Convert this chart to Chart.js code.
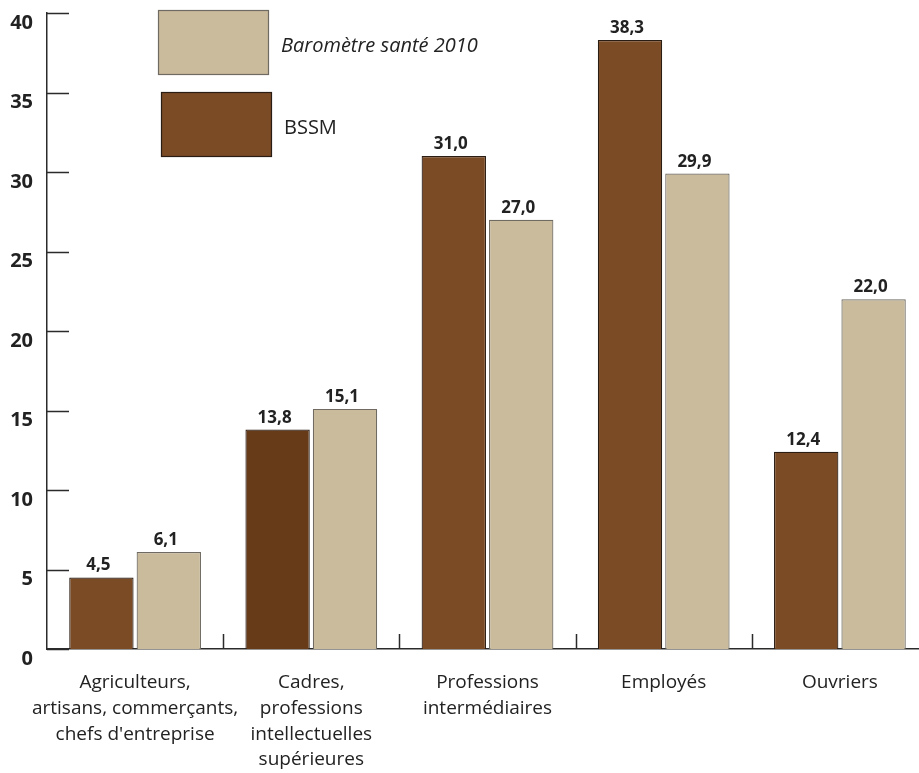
<!DOCTYPE html>
<html lang="fr">
<head>
<meta charset="utf-8">
<title>BSSM / Baromètre santé 2010</title>
<script src="https://cdn.jsdelivr.net/npm/chart.js@4.4.1/dist/chart.umd.min.js"></script>
<style>
  html, body { margin: 0; padding: 0; background: #fff; overflow: hidden; }
  #wrap { position: absolute; left: 0; top: 0; width: 928px; height: 773px; }
</style>
</head>
<body>
<div id="wrap"><canvas id="c" width="928" height="773"></canvas></div>
<script>
// Catégories socioprofessionnelles (libellés sur plusieurs lignes)
const categories = [
  ["Agriculteurs,", "artisans, commerçants,", "chefs d'entreprise"],
  ["Cadres,", "professions", "intellectuelles", "supérieures"],
  ["Professions", "intermédiaires"],
  ["Employés"],
  ["Ouvriers"]
];

// Pourcentages par enquête
const bssmValues = [4.5, 13.8, 31.0, 38.3, 12.4];
const barometreValues = [6.1, 15.1, 27.0, 29.9, 22.0];

// Graduations de l'axe vertical
const yTickValues = [0, 5, 10, 15, 20, 25, 30, 35, 40];

const seriesNames = { bssm: "BSSM", barometre: "Baromètre santé 2010" };

const BROWN = "#7b4b26";
const BROWN_DARK = "#673b18";
const BEIGE = "#cabb9c";
const INK = "#222222";
const FONT = "'Open Sans', 'Noto Sans', sans-serif";

const fmt = v => v.toFixed(1).replace(".", ",");

// Petites graduations dessinées vers l'intérieur, à partir des échelles
const innerTicks = {
  id: "innerTicks",
  afterDatasetsDraw(chart) {
    const { ctx, chartArea, scales } = chart;
    const x = scales.x, y = scales.y;
    ctx.save();
    ctx.strokeStyle = "#2b2b2b";
    ctx.lineWidth = 1.5;
    ctx.beginPath();
    yTickValues.forEach(v => {
      const py = Math.round(y.getPixelForValue(v)) + 0.5;
      ctx.moveTo(chartArea.left, py);
      ctx.lineTo(chartArea.left + 22, py);
    });
    for (let i = 1; i <= categories.length; i++) {
      const bx = i < categories.length
        ? Math.round((x.getPixelForValue(i - 1) + x.getPixelForValue(i)) / 2)
        : chartArea.right;
      ctx.moveTo(bx + 0.5, chartArea.bottom);
      ctx.lineTo(bx + 0.5, chartArea.bottom - 15);
    }
    ctx.stroke();
    ctx.restore();
  }
};

// Valeurs affichées au-dessus des barres
const valueLabels = {
  id: "valueLabels",
  afterDatasetsDraw(chart) {
    const { ctx } = chart;
    ctx.save();
    ctx.fillStyle = INK;
    ctx.font = "bold 17px " + FONT;
    ctx.textAlign = "center";
    ctx.textBaseline = "alphabetic";
    chart.data.datasets.forEach((ds, di) => {
      const meta = chart.getDatasetMeta(di);
      meta.data.forEach((bar, i) => {
        ctx.fillText(fmt(ds.data[i]), bar.x - 3, bar.y - 7);
      });
    });
    ctx.restore();
  }
};

// Légende : deux grands aplats empilés dans la zone de tracé
const boxLegend = {
  id: "boxLegend",
  afterDraw(chart) {
    const { ctx } = chart;
    const items = [
      { ds: chart.data.datasets[1], x: 158, y: 10, italic: true },
      { ds: chart.data.datasets[0], x: 161, y: 92, italic: false }
    ];
    ctx.save();
    items.forEach(it => {
      const fill = Array.isArray(it.ds.backgroundColor) ? it.ds.backgroundColor[0] : it.ds.backgroundColor;
      const stroke = Array.isArray(it.ds.borderColor) ? it.ds.borderColor[0] : it.ds.borderColor;
      ctx.fillStyle = fill;
      ctx.fillRect(it.x, it.y, 110, 64);
      ctx.strokeStyle = stroke;
      ctx.lineWidth = 1.2;
      ctx.strokeRect(it.x + 0.5, it.y + 0.5, 110, 64);
      ctx.fillStyle = INK;
      ctx.font = (it.italic ? "italic " : "") + "20px " + FONT;
      ctx.textAlign = "left";
      ctx.textBaseline = "middle";
      ctx.fillText(it.ds.label, it.x + 123, it.y + 36);
    });
    ctx.restore();
  }
};

new Chart(document.getElementById("c"), {
  type: "bar",
  data: {
    labels: categories,
    datasets: [
      {
        label: seriesNames.bssm,
        data: bssmValues,
        backgroundColor: bssmValues.map((_, i) => i === 1 ? BROWN_DARK : BROWN),
        borderColor: "#2a1d14",
        borderWidth: 1.2,
        categoryPercentage: 0.765,
        barPercentage: 0.955
      },
      {
        label: seriesNames.barometre,
        data: barometreValues,
        backgroundColor: BEIGE,
        borderColor: "#6f6a62",
        borderWidth: 1.2,
        categoryPercentage: 0.765,
        barPercentage: 0.955
      }
    ]
  },
  options: {
    responsive: false,
    animation: false,
    layout: { autoPadding: false, padding: { top: 13, right: 0, left: 0, bottom: 0 } },
    plugins: {
      legend: { display: false },
      tooltip: { enabled: false }
    },
    scales: {
      x: {
        grid: { display: false, drawTicks: false },
        border: { display: true, color: "#2b2b2b", width: 1.5 },
        ticks: {
          color: INK,
          font: { family: FONT, size: 19, lineHeight: 1.35 },
          padding: 21,
          maxRotation: 0,
          autoSkip: false
        },
        afterFit(scale) {
          scale.height = 124;
          scale.paddingLeft = 0;
          scale.paddingRight = 0;
        }
      },
      y: {
        min: 0,
        max: 40,
        afterBuildTicks(scale) { scale.ticks = yTickValues.map(v => ({ value: v })); },
        grid: { display: false, drawTicks: false },
        border: { display: true, color: "#2b2b2b", width: 1.5 },
        ticks: {
          color: INK,
          font: { family: FONT, size: 20, weight: "bold" },
          padding: 14,
          labelOffset: 10
        },
        afterFit(scale) {
          scale.width = 47;
          scale.paddingTop = 0;
          scale.paddingBottom = 0;
        }
      }
    }
  },
  plugins: [innerTicks, valueLabels, boxLegend]
});
</script>
</body>
</html>
